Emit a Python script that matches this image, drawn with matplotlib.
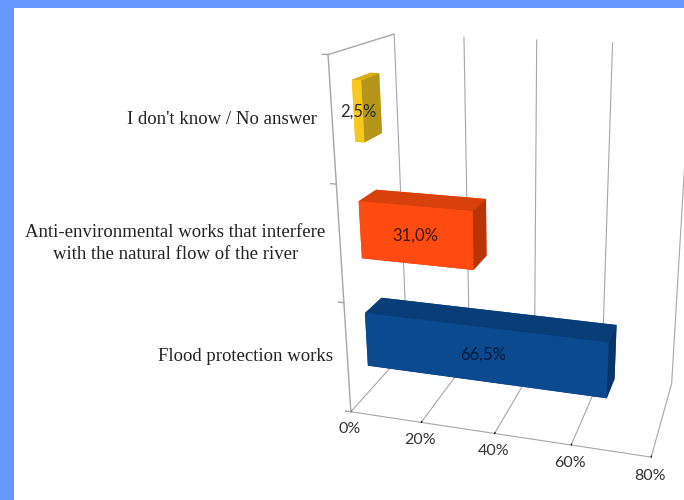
import matplotlib
matplotlib.use('Agg')
import matplotlib.pyplot as plt
from matplotlib.patches import Rectangle
from matplotlib.ticker import FuncFormatter

# survey answers, bottom to top
categories = ['Flood protection works',
              'Anti-environmental works that interfere\nwith the natural flow of the river',
              "I don't know / No answer"]
values = [66.5, 31.0, 2.5]
value_labels = ['66,5%', '31,0%', '2,5%']
x_ticks = [0, 20, 40, 60, 80]

front_colors = ['#0B4A8F', '#FF4B12', '#F7C81E']
top_colors = ['#083D78', '#D8400C', '#D8AE18']
side_colors = ['#06356A', '#B83508', '#B5961A']
label_colors = ['#0A1A3A', '#3A1A10', '#2A2A35']


def draw_chart():
    fig = plt.figure(figsize=(6.84, 5.0), dpi=100, facecolor='#6699FF')
    fig.patches.append(Rectangle((14 / 684, 0), 1, 1 - 8 / 500, transform=fig.transFigure,
                                 facecolor='white', edgecolor='none', zorder=-10))

    ax = fig.add_axes([0.387, 0.028, 0.715, 0.98], projection='3d')
    ax.set_facecolor('none')
    ax.set_proj_type('persp', focal_length=0.36)
    ax.view_init(elev=19, azim=-74)
    ax.set_box_aspect((335, 165, 395), zoom=1.0)

    grey = '#A6A6A6'
    depth, bar_h = 0.28, 0.5
    y0 = 0.3
    for k, (v, lbl) in enumerate(zip(values, value_labels)):
        face_colors = [top_colors[k], top_colors[k], front_colors[k],
                       front_colors[k], front_colors[k], side_colors[k]]
        ax.bar3d(0, y0, k + 0.5 - bar_h / 2, v, depth, bar_h,
                 color=face_colors, shade=False, edgecolor='none')
        ax.text(v / 2, y0, k + 0.5, lbl, ha='center', va='center', fontsize=12,
                family='Lato', color=label_colors[k], zorder=100)

    for k, cat in enumerate(categories):
        ax.text(-4, 0, k + 0.5, cat, ha='right', va='center', multialignment='center',
                linespacing=1.4, fontsize=13.5, family='Liberation Serif',
                color='#222222', zorder=100)

    # left wall edges and category ticks
    n = len(categories)
    ax.plot([0, 0], [0, 0], [0, n], color=grey, lw=1, zorder=1)
    ax.plot([0, 0], [0, 1], [n, n], color=grey, lw=1, zorder=1)
    for k in range(n + 1):
        ax.plot([-1.5, 0], [0, 0], [k, k], color=grey, lw=1, zorder=1)

    ax.set_xlim(0, 80)
    ax.set_ylim(0, 1)
    ax.set_zlim(0, n)
    ax.set_xticks(x_ticks)
    ax.xaxis.set_major_formatter(FuncFormatter(lambda x, p: '%d%%' % x))
    ax.tick_params(axis='x', pad=-3)
    ax.set_yticks([])
    ax.set_zticks([])
    for t in ax.get_xticklabels():
        t.set_family('Lato')
        t.set_fontsize(11.5)
        t.set_color('#333333')

    for axis in (ax.xaxis, ax.yaxis, ax.zaxis):
        axis.set_pane_color((1, 1, 1, 0))
        axis.pane.set_edgecolor('none')
        axis.line.set_color(grey)
        axis.label.set_visible(False)
        axis.offsetText.set_visible(False)
        axis._axinfo['tick']['inward_factor'] = 0.0
        axis._axinfo['tick']['outward_factor'] = 0.15
        axis._axinfo['tick']['color'] = grey
    ax.yaxis.line.set_color('none')
    ax.zaxis.line.set_color('none')
    ax.xaxis._axinfo['grid'].update(color=grey, linewidth=0.8)
    ax.yaxis._axinfo['grid'].update(color=(1, 1, 1, 0), linewidth=0)
    ax.zaxis._axinfo['grid'].update(color=(1, 1, 1, 0), linewidth=0)

    fig.savefig('out.png', dpi=100, facecolor=fig.get_facecolor())


def main():
    draw_chart()


if __name__ == "__main__":
    main()
